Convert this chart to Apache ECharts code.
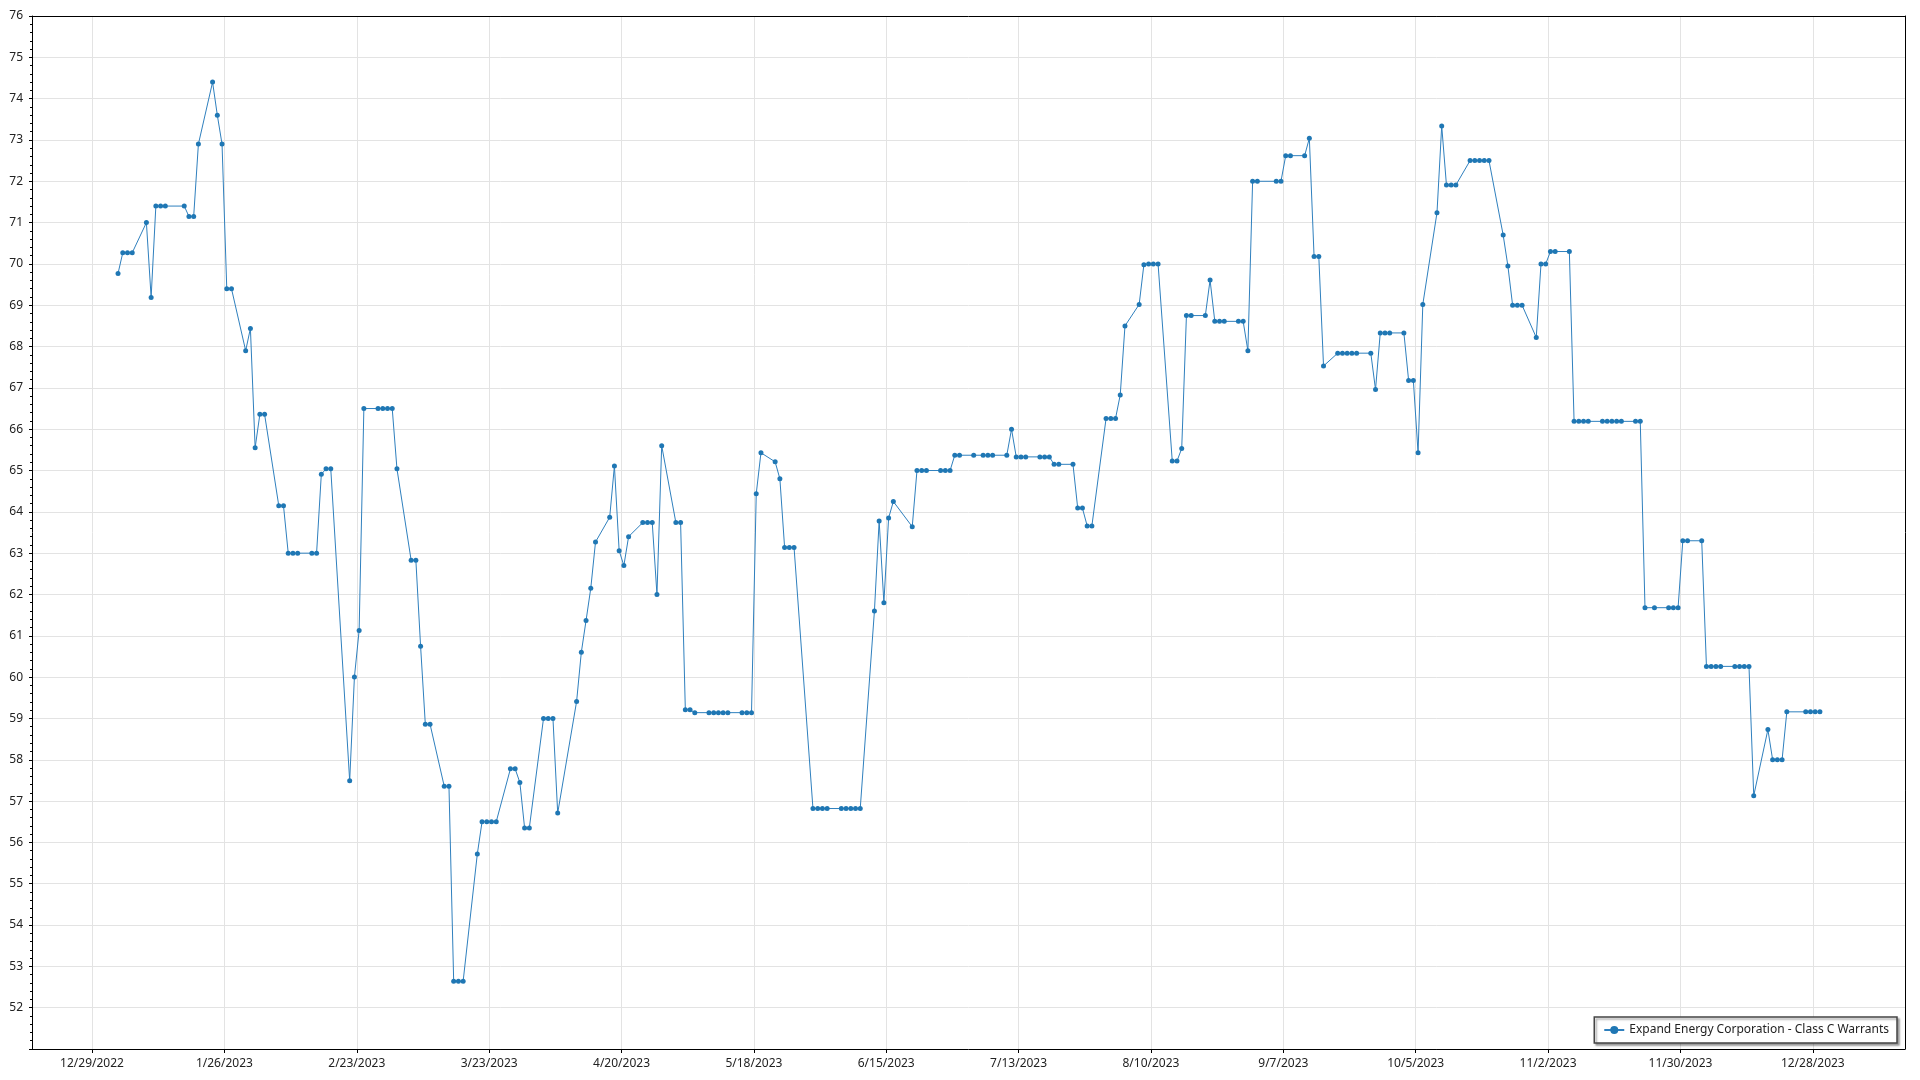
<!DOCTYPE html>
<html><head><meta charset="utf-8">
<script src="https://cdn.jsdelivr.net/npm/echarts@6/dist/echarts.min.js"></script>
<style>html,body{margin:0;padding:0;background:#fff}#c{width:1920px;height:1080px}</style>
</head><body><div id="c"></div>
<script>
const seriesName = 'Expand Energy Corporation - Class C Warrants';

const tradeDates = [
'2023-01-03','2023-01-04','2023-01-05','2023-01-06','2023-01-09','2023-01-10','2023-01-11','2023-01-12','2023-01-13','2023-01-17','2023-01-18','2023-01-19','2023-01-20','2023-01-23','2023-01-24','2023-01-25','2023-01-26','2023-01-27','2023-01-30','2023-01-31',
'2023-02-01','2023-02-02','2023-02-03','2023-02-06','2023-02-07','2023-02-08','2023-02-09','2023-02-10','2023-02-13','2023-02-14','2023-02-15','2023-02-16','2023-02-17','2023-02-21','2023-02-22','2023-02-23','2023-02-24','2023-02-27','2023-02-28',
'2023-03-01','2023-03-02','2023-03-03','2023-03-06','2023-03-07','2023-03-08','2023-03-09','2023-03-10','2023-03-13','2023-03-14','2023-03-15','2023-03-16','2023-03-17','2023-03-20','2023-03-21','2023-03-22','2023-03-23','2023-03-24','2023-03-27','2023-03-28','2023-03-29','2023-03-30','2023-03-31',
'2023-04-03','2023-04-04','2023-04-05','2023-04-06','2023-04-10','2023-04-11','2023-04-12','2023-04-13','2023-04-14','2023-04-17','2023-04-18','2023-04-19','2023-04-20','2023-04-21','2023-04-24','2023-04-25','2023-04-26','2023-04-27','2023-04-28',
'2023-05-01','2023-05-02','2023-05-03','2023-05-04','2023-05-05','2023-05-08','2023-05-09','2023-05-10','2023-05-11','2023-05-12','2023-05-15','2023-05-16','2023-05-17','2023-05-18','2023-05-19','2023-05-22','2023-05-23','2023-05-24','2023-05-25','2023-05-26','2023-05-30','2023-05-31',
'2023-06-01','2023-06-02','2023-06-05','2023-06-06','2023-06-07','2023-06-08','2023-06-09','2023-06-12','2023-06-13','2023-06-14','2023-06-15','2023-06-16','2023-06-20','2023-06-21','2023-06-22','2023-06-23','2023-06-26','2023-06-27','2023-06-28','2023-06-29','2023-06-30',
'2023-07-03','2023-07-05','2023-07-06','2023-07-07','2023-07-10','2023-07-11','2023-07-12','2023-07-13','2023-07-14','2023-07-17','2023-07-18','2023-07-19','2023-07-20','2023-07-21','2023-07-24','2023-07-25','2023-07-26','2023-07-27','2023-07-28','2023-07-31',
'2023-08-01','2023-08-02','2023-08-03','2023-08-04','2023-08-07','2023-08-08','2023-08-09','2023-08-10','2023-08-11','2023-08-14','2023-08-15','2023-08-16','2023-08-17','2023-08-18','2023-08-21','2023-08-22','2023-08-23','2023-08-24','2023-08-25','2023-08-28','2023-08-29','2023-08-30','2023-08-31',
'2023-09-01','2023-09-05','2023-09-06','2023-09-07','2023-09-08','2023-09-11','2023-09-12','2023-09-13','2023-09-14','2023-09-15','2023-09-18','2023-09-19','2023-09-20','2023-09-21','2023-09-22','2023-09-25','2023-09-26','2023-09-27','2023-09-28','2023-09-29',
'2023-10-02','2023-10-03','2023-10-04','2023-10-05','2023-10-06','2023-10-09','2023-10-10','2023-10-11','2023-10-12','2023-10-13','2023-10-16','2023-10-17','2023-10-18','2023-10-19','2023-10-20','2023-10-23','2023-10-24','2023-10-25','2023-10-26','2023-10-27','2023-10-30','2023-10-31',
'2023-11-01','2023-11-02','2023-11-03','2023-11-06','2023-11-07','2023-11-08','2023-11-09','2023-11-10','2023-11-13','2023-11-14','2023-11-15','2023-11-16','2023-11-17','2023-11-20','2023-11-21','2023-11-22','2023-11-24','2023-11-27','2023-11-28','2023-11-29','2023-11-30',
'2023-12-01','2023-12-04','2023-12-05','2023-12-06','2023-12-07','2023-12-08','2023-12-11','2023-12-12','2023-12-13','2023-12-14','2023-12-15','2023-12-18','2023-12-19','2023-12-20','2023-12-21','2023-12-22','2023-12-26','2023-12-27','2023-12-28','2023-12-29'
];

const prices = [
69.77,70.27,70.27,70.27,71.00,69.19,71.40,71.40,71.40,71.40,71.15,71.15,72.90,74.40,73.60,72.90,69.40,69.40,67.90,68.44,
65.55,66.36,66.36,64.15,64.15,63.00,63.00,63.00,63.00,63.00,64.91,65.04,65.04,57.49,60.00,61.13,66.50,66.50,66.50,
66.50,66.50,65.04,62.83,62.83,60.75,58.86,58.86,57.36,57.36,52.64,52.64,52.64,55.72,56.50,56.50,56.50,56.50,57.78,57.78,57.45,56.35,56.35,
59.00,59.00,59.00,56.71,59.41,60.60,61.37,62.15,63.27,63.87,65.11,63.06,62.70,63.40,63.74,63.74,63.74,62.00,65.60,
63.74,63.74,59.21,59.21,59.14,59.14,59.14,59.14,59.14,59.14,59.14,59.14,59.14,64.44,65.43,65.21,64.80,63.14,63.14,63.14,56.82,56.82,
56.82,56.82,56.82,56.82,56.82,56.82,56.82,61.60,63.78,61.80,63.85,64.25,63.64,65.00,65.00,65.00,65.00,65.00,65.00,65.37,65.37,
65.37,65.37,65.37,65.37,65.37,66.00,65.33,65.33,65.33,65.33,65.33,65.33,65.15,65.15,65.15,64.09,64.09,63.66,63.66,66.26,
66.26,66.26,66.83,68.50,69.02,69.98,70.00,70.00,70.00,65.23,65.23,65.53,68.75,68.75,68.75,69.61,68.61,68.61,68.61,68.61,68.61,67.90,72.00,
72.00,72.00,72.00,72.62,72.62,72.62,73.04,70.18,70.18,67.53,67.84,67.84,67.84,67.84,67.84,67.84,66.96,68.33,68.33,68.33,
68.33,67.18,67.18,65.43,69.02,71.24,73.34,71.91,71.91,71.91,72.50,72.50,72.50,72.50,72.50,70.70,69.95,69.00,69.00,69.00,68.22,70.00,
70.00,70.30,70.30,70.30,66.19,66.19,66.19,66.19,66.19,66.19,66.19,66.19,66.19,66.19,66.19,61.68,61.68,61.68,61.68,61.68,63.30,
63.30,63.30,60.26,60.26,60.26,60.26,60.26,60.26,60.26,60.26,57.13,58.73,58.00,58.00,58.00,59.16,59.16,59.16,59.16,59.16
];

const xTickDates = ['2022-12-29','2023-01-26','2023-02-23','2023-03-23','2023-04-20','2023-05-18','2023-06-15','2023-07-13','2023-08-10','2023-09-07','2023-10-05','2023-11-02','2023-11-30','2023-12-28'];
const yTickLabels = [52,53,54,55,56,57,58,59,60,61,62,63,64,65,66,67,68,69,70,71,72,73,74,75,76];

const DAY = 86400000;
const ORIGIN = Date.UTC(2022, 11, 29);
function dayIndex(s) { const p = s.split('-').map(Number); return (Date.UTC(p[0], p[1]-1, p[2]) - ORIGIN) / DAY; }
function fmtDay(v) { const d = new Date(ORIGIN + Math.round(v) * DAY); return (d.getUTCMonth()+1) + '/' + d.getUTCDate() + '/' + d.getUTCFullYear(); }

// points are plotted at midday of each trading date
const seriesData = tradeDates.map((s, i) => [dayIndex(s) + 0.5, prices[i]]);
const tickX = xTickDates.map(dayIndex);

const FONT = 'Noto Sans';
const X_MIN = -12.7, X_MAX = 383.5;
const frameAxis = { show: true, onZero: false, lineStyle: { color: '#000', width: 1 } };
const chart = echarts.init(document.getElementById('c'));
chart.setOption({
  animation: false,
  backgroundColor: '#fff',
  textStyle: { fontFamily: FONT },
  grid: { left: 32, right: 15, top: 16, bottom: 31, show: false, containLabel: false },
  legend: {
    right: 23, bottom: 37,
    backgroundColor: '#fff', borderColor: '#444', borderWidth: 1.5,
    padding: [7, 8, 7, 9],
    shadowColor: 'rgba(0,0,0,0.35)', shadowBlur: 2, shadowOffsetX: 2, shadowOffsetY: 2,
    itemWidth: 20, itemHeight: 10, itemGap: 6,
    textStyle: { fontSize: 12, color: '#222', fontFamily: FONT },
    data: [seriesName]
  },
  xAxis: [{
    type: 'value', min: X_MIN, max: X_MAX, position: 'bottom',
    axisLine: { show: true, onZero: false, lineStyle: { color: '#000', width: 1 } },
    axisTick: { show: true, length: 4, customValues: tickX, lineStyle: { color: '#000' } },
    axisLabel: { customValues: tickX, formatter: fmtDay, fontSize: 12, color: '#222', margin: 9, fontFamily: FONT },
    splitLine: { show: true, lineStyle: { color: '#e3e3e3', width: 1 } }
  }, {
    type: 'value', min: X_MIN, max: X_MAX, position: 'top',
    axisLine: frameAxis, axisTick: { show: false }, axisLabel: { show: false }, splitLine: { show: false }
  }],
  yAxis: [{
    type: 'value', min: 51, max: 76, interval: 1, position: 'left',
    axisLine: { show: true, onZero: false, lineStyle: { color: '#000', width: 1 } },
    axisTick: { show: true, length: 3, lineStyle: { color: '#000' } },
    minorTick: { show: true, splitNumber: 5, length: 2, lineStyle: { color: '#000' } },
    axisLabel: { customValues: yTickLabels, fontSize: 12, color: '#222', margin: 9, fontFamily: FONT },
    splitLine: { show: true, lineStyle: { color: '#e3e3e3', width: 1 } }
  }, {
    type: 'value', min: 51, max: 76, interval: 1, position: 'right',
    axisLine: frameAxis, axisTick: { show: false }, axisLabel: { show: false }, splitLine: { show: false }
  }],
  series: [{
    name: seriesName,
    type: 'line',
    xAxisIndex: 0, yAxisIndex: 0,
    data: seriesData,
    symbol: 'circle', symbolSize: 5,
    showAllSymbol: true,
    itemStyle: { color: '#1f77b4' },
    lineStyle: { color: '#2f80be', width: 1 },
    emphasis: { disabled: true }
  }]
});
</script>
</body></html>
